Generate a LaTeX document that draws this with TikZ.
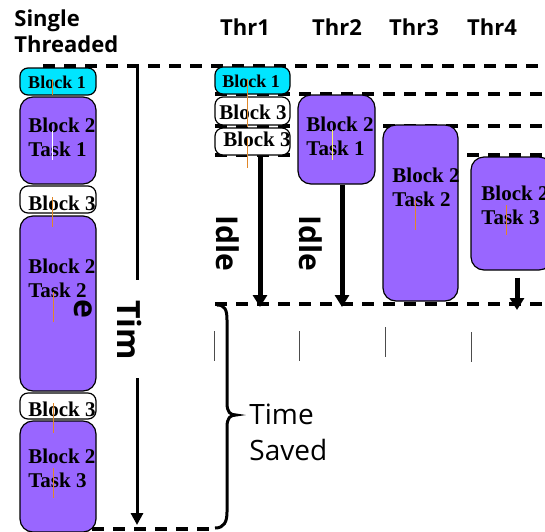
\documentclass[tikz,border=0pt]{standalone}
\usepackage{fontspec}
\setmainfont{Open Sans}
\newfontfamily\blockfont{Liberation Serif}
\usetikzlibrary{arrows.meta,fit}

\definecolor{taskpurple}{RGB}{153,102,255}
\definecolor{blockcyan}{RGB}{0,229,255}
\definecolor{cursor}{RGB}{225,135,40}

\begin{document}
\begin{tikzpicture}[x=0.5pt, y=-0.5pt, >={Triangle[width=6pt,length=6pt]}]
        \tikzstyle{block}=[draw=black, line width=0.6pt, rounded corners=4pt, inner sep=0pt, fill=white];
        \tikzstyle{block one}=[block, fill=blockcyan];
        \tikzstyle{task}=[block, fill=taskpurple, rounded corners=6.5pt];
        \tikzstyle{btext}=[font=\blockfont\bfseries\fontsize{10.5}{12}\selectfont, inner sep=0pt, align=left];
        \tikzstyle{bsmall}=[btext, font=\blockfont\bfseries\fontsize{9}{11}\selectfont];
        \tikzstyle{head}=[font=\bfseries\fontsize{11}{13}\selectfont, inner sep=0pt, align=left];
        \tikzstyle{annot}=[font=\bfseries\fontsize{15}{18}\selectfont, inner sep=0pt, rotate=-90];
        \tikzstyle{sync}=[line width=2pt, dash pattern=on 6pt off 4.5pt];
        \tikzstyle{wait}=[->, line width=2.5pt, >={Triangle[width=7pt,length=6pt]}];
        \tikzstyle{timeline}=[line width=1.5pt];
        \tikzstyle{guide}=[cursor, line width=0.4pt];
        \tikzstyle{tick}=[black!70, line width=0.5pt];

        \useasboundingbox (0,0) rectangle (545,531);

        % headings
        \node[head, anchor=north west] (single) at (14,9) {Single\\Threaded};
        \foreach \name / \x in {1/245, 2/337, 3/414, 4/492}
            \node[head] (thr\name) at (\x,27) {Thr\name};

        % sync lines
        \draw[sync] (43,66) -- (545,66);
        \foreach \y in {94, 126, 155, 304}
            \draw[sync] (215,\y) -- (545,\y);
        \draw[sync] (50,529) -- (215,529);

        % single threaded column
        \node[block one, fit={(20,68) (96,95)}] (s1) {};
        \node[task, fit={(20,97) (96,184)}] (s2) {};
        \node[block, fit={(20,186) (96,213)}] (s3) {};
        \node[task, fit={(20,216) (96,391)}] (s4) {};
        \node[block, fit={(20,393) (96,419)}] (s5) {};
        \node[task, fit={(20,421) (96,532)}] (s6) {};
        \node[bsmall] (s1t) at (57,82) {Block 1};
        \node[btext, anchor=west] (s2t) at (28,137) {Block 2\\Task 1};
        \node[btext] (s3t) at (62,203) {Block 3};
        \node[btext, anchor=west] (s4t) at (28,278) {Block 2\\Task 2};
        \node[btext] (s5t) at (62,409) {Block 3};
        \node[btext, anchor=west] (s6t) at (28,468) {Block 2\\Task 3};

        % thread columns
        \node[block one, fit={(215,67) (290,94)}] (t1a) {};
        \node[block, fit={(215,97) (290,125)}] (t1b) {};
        \node[block, fit={(215,128) (290,155)}] (t1c) {};
        \node[task, fit={(298,95) (375,184)}] (t2) {};
        \node[task, fit={(383,125) (458,301)}] (t3) {};
        \node[task, fit={(471,157) (552,270)}] (t4) {};
        \node[bsmall] (t1at) at (251,81) {Block 1};
        \node[btext] (t1bt) at (253,112) {Block 3};
        \node[btext] (t1ct) at (257,139) {Block 3};
        \node[btext, anchor=west] (t2t) at (306,136) {Block 2\\Task 1};
        \node[btext, anchor=west] (t3t) at (392,187) {Block 2\\Task 2};
        \node[btext, anchor=west] (t4t) at (481,205) {Block 2\\Task 3};

        % cursor marks
        \foreach \x / \a / \b in {52/79/95, 52/197/227, 53/292/322, 53/403/433, 53/468/498,
                                  247/79/127, 247/138/168, 415/200/230, 506/205/235}
            \draw[guide] (\x,\a) -- (\x,\b);
        \draw[guide, white] (52,131) -- (52,160);
        \draw[guide, yellow!60] (332,130) -- (332,160);

        % idle arrows
        \coordinate (w1) at (260,307);
        \coordinate (w2) at (342,307);
        \coordinate (w4) at (517,310);
        \draw[wait] (t1c.south -| w1) -- (w1);
        \draw[wait] (t2.south -| w2) -- (w2);
        \draw[wait] ([yshift=-3.5pt]t4.south -| w4) -- (w4);
        \node[annot] (idle1) at (228,243) {Idle};
        \node[annot] (idle2) at (311,243) {Idle};

        % time axis
        \coordinate (ttop) at (137,66);
        \coordinate (tbrk) at (137,280);
        \coordinate (tgo) at (137,378);
        \coordinate (tend) at (137,525);
        \draw[timeline] (ttop) -- (tbrk);
        \draw[timeline, ->] (tgo) -- (tend);
        \node[annot, font=\bfseries\fontsize{16}{19}\selectfont] (tim) at (130,330) {Tim};
        \node[annot, font=\bfseries\fontsize{16}{19}\selectfont] (tim e) at (83,309) {e};

        % ticks under the threads
        \foreach \x / \a in {214/331, 299/331, 385/327, 471/332}
            \draw[tick] (\x,\a) -- (\x,\a+30);

        % saved span
        \draw[line width=1.5pt] (217,305) .. controls (225,305) and (227,310) .. (227,320)
            -- (227,403) .. controls (227,412) and (230,415) .. (236,415)
            .. controls (230,415) and (227,418) .. (227,427)
            -- (227,512) .. controls (227,522) and (224,528) .. (215,528);
        \node[font=\fontsize{14}{18}\selectfont, inner sep=0pt, align=left, anchor=north west] (saved) at (249,404) {Time\\Saved};
\end{tikzpicture}
\end{document}
